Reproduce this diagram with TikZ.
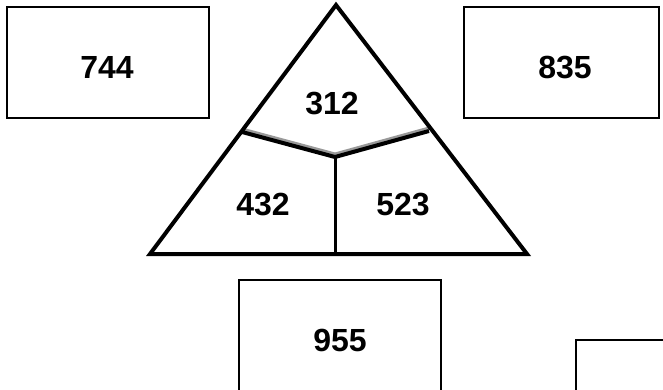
\documentclass[tikz,border=0pt]{standalone}
\usepackage{fontspec}
\setmainfont{Liberation Sans}
\begin{document}
\begin{tikzpicture}[x=1pt,y=-1pt,
  box/.style={draw=black,line width=2pt,fill=white,inner sep=0pt,minimum width=#1,minimum height=111pt},
  num/.style={font=\fontsize{32}{36}\selectfont\bfseries,inner sep=0pt},
  tri/.style={line width=4pt,line join=miter},
  divider/.style={line width=4pt},
  shade/.style={line width=3pt,draw=black!40}]
\useasboundingbox (0,0) rectangle (663,390);
\clip (0,0) rectangle (663,390);
% boxes
\node[box=202pt] (b744) at (108,62.5) {};
\node[num] (t744) at (107,67) {744};
\node[box=195pt] (b835) at (561.5,62.5) {};
\node[num] (t835) at (565,68) {835};
\node[box=202pt] (b955) at (340,335.5) {};
\node[num] (t955) at (340,340) {955};
\node[box=202pt] (bcut) at (677,395.5) {};
% triangle
\coordinate (apex) at (336,5);
\coordinate (bl) at (150,254);
\coordinate (br) at (527,254);
\coordinate (pl) at (242,132);
\coordinate (pc) at (335,157);
\coordinate (pr) at (429,131);
\coordinate (pb) at (335,256);
\draw[shade] ([yshift=3pt]pl) -- ([yshift=3pt]pc) -- ([yshift=3pt]pr);
\draw[divider] (pl) -- (pc) -- (pr);
\draw[line width=3pt] (pc) -- (pb);
\draw[tri] (apex) -- (bl) -- (br) -- cycle;
\node[num] (t312) at (332,104) {312};
\node[num] (t432) at (263,205) {432};
\node[num] (t523) at (403,205) {523};
\end{tikzpicture}
\end{document}
